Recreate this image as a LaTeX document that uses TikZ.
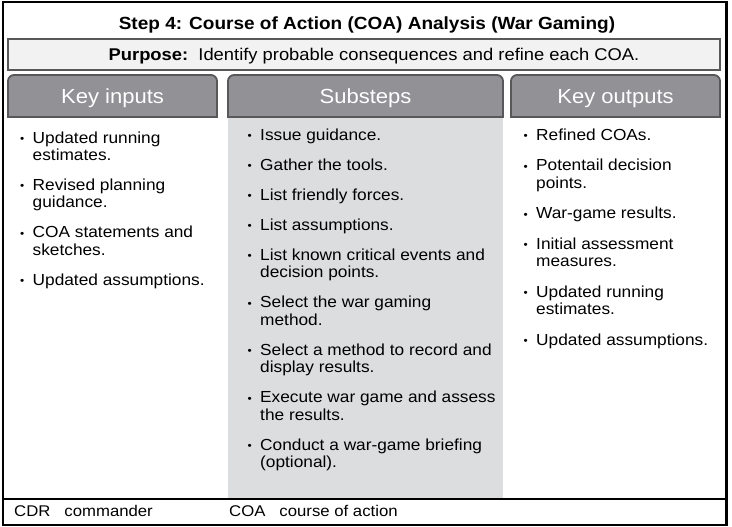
\documentclass[tikz,border=0pt]{standalone}
\usepackage{fontspec}
\setmainfont[FakeStretch=1.08]{Liberation Sans}
\usetikzlibrary{positioning}

\definecolor{tabgray}{RGB}{145,145,150}
\definecolor{tabedge}{RGB}{88,88,90}
\definecolor{purposefill}{RGB}{242,242,242}
\definecolor{columnfill}{RGB}{220,221,223}

\newcommand{\bul}{\makebox[12.5pt][l]{\raisebox{0.1ex}{\fontsize{11}{12}\selectfont\textbullet}}}
\newcommand{\keylist}[1]{\begin{tabular}[t]{@{}l@{}l@{}}#1\end{tabular}}

\begin{document}
\begin{tikzpicture}[
         x=1pt, y=1pt,
         title/.style={font=\fontsize{17.6}{21}\selectfont\bfseries, anchor=base, inner sep=0pt},
         purposebox/.style={fill=purposefill, draw=tabedge, line width=1.6pt, minimum width=712pt, minimum height=31pt, inner sep=0pt},
         tabshape/.style={fill=tabgray, draw=tabedge, line width=1.8pt},
         heading/.style={font=\fontsize{20.4}{24}\selectfont, text=white, anchor=base, inner sep=0pt},
         listtext/.style={font=\fontsize{16}{17.5}\selectfont, anchor=base west, inner sep=0pt},
         footer/.style={font=\fontsize{15.5}{18}\selectfont, anchor=base west, inner sep=0pt}
      ]
         \useasboundingbox (0,0) rectangle (732,-527);

         % Substeps column
         \fill[columnfill] (228,-117) rectangle (503,-498);

         % Frame and footer rule
         \draw[line width=2.2pt] (2.6,-2.2) rectangle (726.4,-524.8);
         \draw[line width=1.8pt] (2.6,-499) -- (726.4,-499);

         % Title and purpose
         \node[title] (title) at (367,-29.5) {Step 4: Course of Action (COA) Analysis (War Gaming)};
         \node[purposebox] (purpose) at (364,-54.5) {};
         \node[listtext, font=\fontsize{17}{20}\selectfont, anchor=base] (purposetext) at (374,-60.5)
            {\textbf{Purpose:}\ \ Identify probable consequences and refine each COA.};

         % Tabs
         \path[tabshape] (8,-117) [rounded corners=6pt] -- (8,-75) -- (217,-75) [sharp corners] -- (217,-117) -- cycle;
         \path[tabshape] (228,-117) [rounded corners=6pt] -- (228,-75) -- (503,-75) [sharp corners] -- (503,-117) -- cycle;
         \path[tabshape] (511,-117) [rounded corners=6pt] -- (511,-75) -- (720,-75) [sharp corners] -- (720,-117) -- cycle;
         \node[heading] (inputs) at (112.5,-103.5) {Key inputs};
         \node[heading] (substeps) at (365.5,-103.5) {Substeps};
         \node[heading] (outputs) at (615.5,-103.5) {Key outputs};

         % Lists
         \node[listtext] (inputlist) at (20,-143) {\keylist{
            \bul & Updated running\\ & estimates.\\[12.5pt]
            \bul & Revised planning\\ & guidance.\\[12.5pt]
            \bul & COA statements and\\ & sketches.\\[12.5pt]
            \bul & Updated assumptions.}};
         \node[listtext] (steplist) at (247.5,-140.5) {\keylist{
            \bul & Issue guidance.\\[12.5pt]
            \bul & Gather the tools.\\[12.5pt]
            \bul & List friendly forces.\\[12.5pt]
            \bul & List assumptions.\\[12.5pt]
            \bul & List known critical events and\\ & decision points.\\[12.5pt]
            \bul & Select the war gaming\\ & method.\\[12.5pt]
            \bul & Select a method to record and\\ & display results.\\[12.5pt]
            \bul & Execute war game and assess\\ & the results.\\[12.5pt]
            \bul & Conduct a war-game briefing\\ & (optional).}};
         \node[listtext] (outputlist) at (523.5,-140.5) {\keylist{
            \bul & Refined COAs.\\[13pt]
            \bul & Potentail decision\\ & points.\\[13pt]
            \bul & War-game results.\\[13pt]
            \bul & Initial assessment\\ & measures.\\[13pt]
            \bul & Updated running\\ & estimates.\\[13pt]
            \bul & Updated assumptions.}};

         % Footer
         \node[footer] (cdr) at (14,-516.5) {CDR\hspace{14pt}commander};
         \node[footer] (coa) at (229,-516.5) {COA\hspace{14pt}course of action};
      \end{tikzpicture}
\end{document}
